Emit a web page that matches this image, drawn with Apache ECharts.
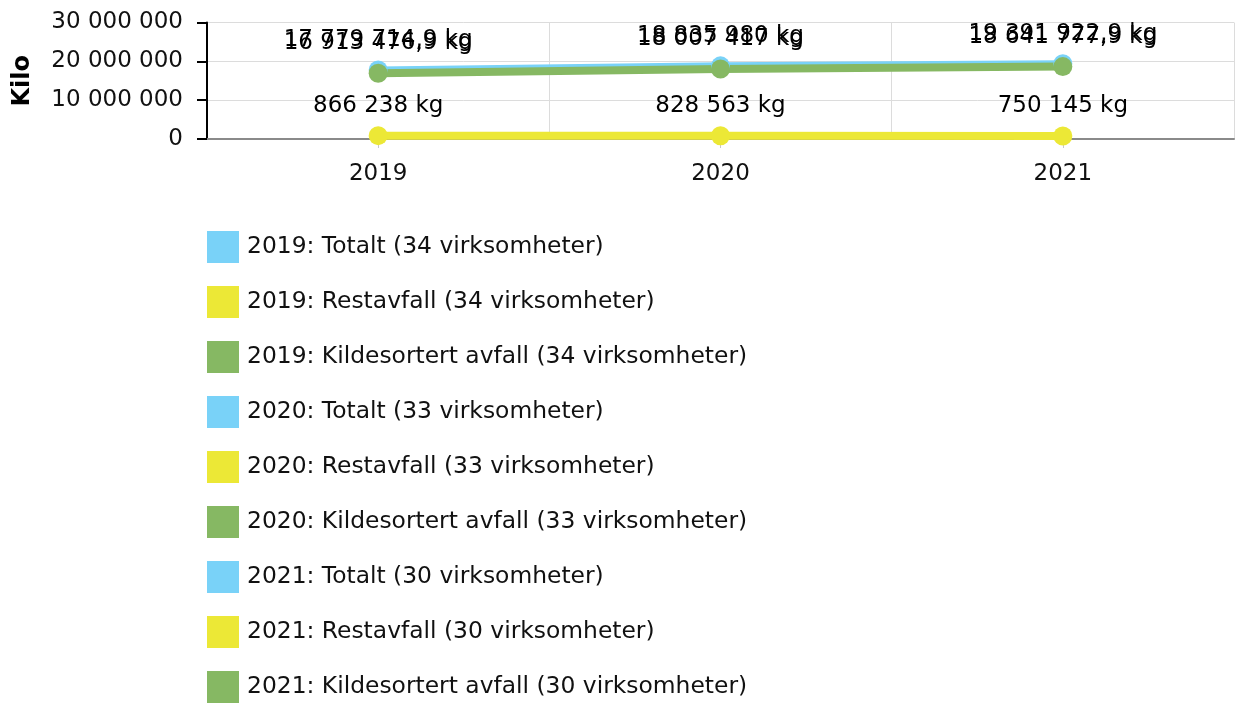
<!DOCTYPE html>
<html>
<head>
<meta charset="utf-8">
<script src="https://cdn.jsdelivr.net/npm/echarts@6/dist/echarts.min.js"></script>
<style>
html,body{margin:0;padding:0;background:#fff;}
#chart{width:1238px;height:704px;}
</style>
</head>
<body>
<div id="chart"></div>
<script>
const years = ['2019', '2020', '2021'];
const counts = [34, 33, 30];
const totalt = [17779714.9, 18835980, 19391922.9];
const restavfall = [866238, 828563, 750145];
const kildesortert = [16913476.9, 18007417, 18641777.9];
const yTicks = [0, 10000000, 20000000, 30000000];
const groupNames = ['Totalt', 'Restavfall', 'Kildesortert avfall'];
const colors = ['#79d2f8', '#ece836', '#86b863'];

const FONT = 'DejaVu Sans';

function fmt(v) {
  const neg = v < 0;
  v = Math.abs(v);
  let r = Math.round(v * 10) / 10;
  let intPart = Math.floor(r);
  let dec = Math.round((r - intPart) * 10);
  let s = String(intPart).replace(/\B(?=(\d{3})+(?!\d))/g, ' ');
  if (dec) s += ',' + dec;
  return (neg ? '-' : '') + s;
}

const groupData = [totalt, restavfall, kildesortert];
const series = [];
const legendNames = [];

// connecting lines (not in legend)
groupData.forEach((arr, gi) => {
  series.push({
    name: '_line_' + gi,
    type: 'line',
    data: arr,
    symbol: 'none',
    silent: true,
    z: 2 + gi,
    lineStyle: { color: colors[gi], width: gi === 0 ? 7 : 8 },
    itemStyle: { color: colors[gi] },
    animation: false
  });
});

// per-year point series (legend entries)
years.forEach((y, yi) => {
  groupData.forEach((arr, gi) => {
    const name = y + ': ' + groupNames[gi] + ' (' + counts[yi] + ' virksomheter)';
    legendNames.push(name);
    const d = years.map((_, i) => (i === yi ? arr[i] : null));
    series.push({
      name: name,
      type: 'line',
      data: d,
      symbol: 'circle',
      symbolSize: 19,
      showSymbol: true,
      z: 5 + gi,
      lineStyle: { width: 0 },
      itemStyle: { color: colors[gi] },
      label: {
        show: true,
        position: 'top',
        distance: 9,
        fontFamily: FONT,
        fontSize: 23,
        color: '#000',
        formatter: p => fmt(p.value) + ' kg'
      },
      animation: false
    });
  });
});

const chart = echarts.init(document.getElementById('chart'), null, { renderer: 'canvas' });
chart.setOption({
  backgroundColor: '#fff',
  animation: false,
  textStyle: { fontFamily: FONT },
  grid: { left: 207, right: 4, top: 22.5, bottom: 565, containLabel: false },
  xAxis: {
    type: 'category',
    data: years,
    boundaryGap: true,
    axisLine: { show: true, lineStyle: { color: '#8a8a8a', width: 2 } },
    axisTick: { show: true, alignWithLabel: true, length: 9, lineStyle: { color: '#c8c8c8', width: 1 } },
    axisLabel: { fontFamily: FONT, fontSize: 23, color: '#111', margin: 24 },
    splitLine: { show: true, lineStyle: { color: '#dcdcdc', width: 1 } }
  },
  yAxis: {
    type: 'value',
    min: yTicks[0],
    max: yTicks[yTicks.length - 1],
    interval: yTicks[1] - yTicks[0],
    name: 'Kilo',
    nameLocation: 'middle',
    nameGap: 172,
    nameRotate: 90,
    nameTextStyle: { fontFamily: FONT, fontSize: 24, fontWeight: 'bold', color: '#000' },
    axisLine: { show: true, lineStyle: { color: '#000', width: 2 } },
    axisTick: { show: true, inside: false, length: 10, lineStyle: { color: '#000', width: 2 } },
    axisLabel: { fontFamily: FONT, fontSize: 23, color: '#111', margin: 24, formatter: v => fmt(v) },
    splitLine: { show: true, lineStyle: { color: '#dcdcdc', width: 1 } }
  },
  legend: {
    data: legendNames,
    orient: 'vertical',
    left: 207,
    top: 231,
    bottom: 0,
    padding: 0,
    icon: 'rect',
    itemWidth: 32,
    itemHeight: 32,
    itemGap: 23,
    textStyle: { fontFamily: FONT, fontSize: 23.4, color: '#111', padding: [0, 0, 0, 3] }
  },
  series: series
});
</script>
</body>
</html>
